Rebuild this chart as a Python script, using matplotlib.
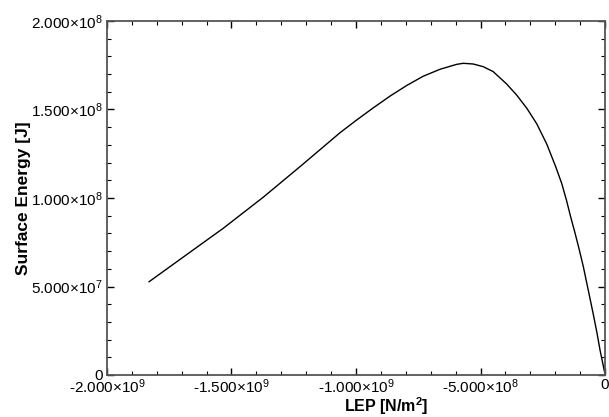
import numpy as np
import matplotlib
matplotlib.use("Agg")
import matplotlib.pyplot as plt
from matplotlib.ticker import MultipleLocator, FuncFormatter

plt.rcParams['font.family'] = ['Liberation Sans', 'DejaVu Sans']
plt.rcParams['mathtext.fontset'] = 'custom'
plt.rcParams['mathtext.rm'] = 'Liberation Sans'
plt.rcParams['mathtext.bf'] = 'Liberation Sans:bold'

# values
lep = np.array([-1.831e9, -1.694e9, -1.533e9, -1.372e9, -1.225e9, -1.064e9,
                -9.97e8, -9.30e8, -8.63e8, -7.96e8, -7.30e8, -6.63e8,
                -5.96e8, -5.69e8, -5.29e8, -4.89e8, -4.49e8, -3.95e8,
                -3.55e8, -3.14e8, -2.74e8, -2.34e8, -1.98e8, -1.74e8,
                -1.55e8, -1.38e8, -1.20e8, -1.03e8, -8.7e7, -7.3e7,
                -5.9e7, -4.5e7, -3.2e7, -2.0e7, 0.0])
energy = np.array([5.27e7, 6.66e7, 8.29e7, 1.005e8, 1.177e8, 1.369e8,
                   1.441e8, 1.510e8, 1.576e8, 1.636e8, 1.688e8, 1.727e8,
                   1.755e8, 1.761e8, 1.757e8, 1.742e8, 1.714e8, 1.644e8,
                   1.582e8, 1.507e8, 1.419e8, 1.305e8, 1.177e8, 1.083e8,
                   9.89e7, 8.94e7, 8.0e7, 7.06e7, 6.12e7, 5.18e7,
                   4.24e7, 3.29e7, 2.36e7, 1.41e7, 5.0e5])


def sci_fmt(v, pos):
    if v == 0:
        return '0'
    e = int(np.floor(np.log10(abs(v))))
    m = v / 10 ** e
    return '%.3f' % m + r'$\mathregular{{\times}10^{%d}}$' % e


fig = plt.figure(figsize=(6.09, 4.17), dpi=100)
ax = fig.add_axes([107 / 609, 1 - 375 / 417, 498 / 609, 354 / 417])

ax.plot(lep, energy, color='black', lw=1.0)

ax.set_xlim(-2e9, 0)
ax.set_ylim(0, 2e8)
ax.xaxis.set_major_locator(MultipleLocator(5e8))
ax.xaxis.set_minor_locator(MultipleLocator(1e8))
ax.yaxis.set_major_locator(MultipleLocator(5e7))
ax.yaxis.set_minor_locator(MultipleLocator(1e7))
ax.xaxis.set_major_formatter(FuncFormatter(sci_fmt))
ax.yaxis.set_major_formatter(FuncFormatter(sci_fmt))

ax.tick_params(which='both', direction='in', top=True, right=True,
               labeltop=False, labelright=False, color='black')
ax.tick_params(which='major', length=5, width=1, labelsize=11, pad=3)
ax.tick_params(axis='x', which='major', pad=2)
ax.tick_params(which='minor', length=3, width=0.8)
for s in ax.spines.values():
    s.set_color('#555555')
    s.set_linewidth(1.3)

ax.set_xlabel(r'LEP [N/m$^\mathbf{2}$]', fontsize=11.5, fontweight='bold')
ax.xaxis.set_label_coords(0.56, -0.056)
ax.set_ylabel('Surface Energy [J]', fontsize=12.5, fontweight='bold')
ax.yaxis.set_label_coords(-0.152, 0.5)

fig.savefig('out.png', dpi=100)
